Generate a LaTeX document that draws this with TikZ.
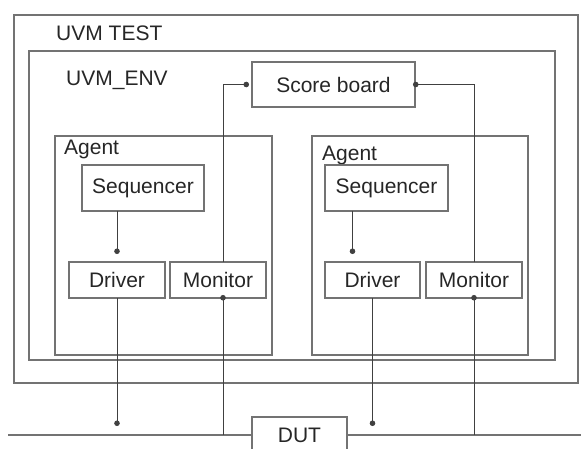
\documentclass[tikz,border=0pt]{standalone}
\usepackage{fontspec}
\setmainfont{Liberation Sans}
\usetikzlibrary{arrows.meta}

\begin{document}
\begin{tikzpicture}[x=1pt, y=-1pt,
		ctr/.style={draw=black!55, line width=1.1pt},
		blk/.style={draw=black!55, line width=1.1pt, inner sep=0pt, outer sep=0pt,
			text=black!85, font=\fontsize{21}{24}\selectfont},
		lbl/.style={anchor=west, inner sep=0pt, text=black!85, font=\fontsize{21}{24}\selectfont},
		lnk/.style={draw=black!75, line width=0.9pt, -{Circle[length=5.5pt]}}]
			%%%%% START %%%%%
			\useasboundingbox (0, 0) rectangle (581, 449);
			
			\draw[ctr] (14, 15) rectangle (578, 383);
			\node[lbl] (test) at (56, 33) {UVM TEST};
			
			\draw[ctr] (29, 51) rectangle (555, 360);
			\node[lbl] (env) at (66, 80) {UVM\_ENV};
			
			\node[blk, minimum width=163, minimum height=45] (sb) at (333.5, 84.5) {Score board};
			
			% left agent
			\draw[ctr] (55, 136) rectangle (272, 355);
			\node[lbl] (agL) at (64, 149) {Agent};
			\node[blk, minimum width=122, minimum height=46] (seqL) at (143, 188) {Sequencer};
			\node[blk, minimum width=96, minimum height=36] (drvL) at (117, 280) {Driver};
			\node[blk, minimum width=96, minimum height=36] (monL) at (218, 280) {Monitor};
			
			% right agent
			\draw[ctr] (312, 136) rectangle (528, 355);
			\node[lbl] (agR) at (322, 155) {Agent};
			\node[blk, minimum width=123, minimum height=46] (seqR) at (386.5, 188) {Sequencer};
			\node[blk, minimum width=95, minimum height=36] (drvR) at (372.5, 280) {Driver};
			\node[blk, minimum width=96, minimum height=36] (monR) at (474, 280) {Monitor};
			
			% DUT and bus
			\node[blk, minimum width=95, minimum height=36] (dut) at (299.5, 435) {DUT};
			\coordinate (busL) at (8, 435);
			\coordinate (busR) at (581, 435);
			\draw[draw=black!55, line width=1.1pt] (busL) -- (dut.west);
			\draw[draw=black!55, line width=1.1pt] (dut.east) -- (busR);
			
			\coordinate (mlTop) at ([xshift=5]monL.north);
			\coordinate (mlBot) at ([xshift=5]monL.south);
			\coordinate (srBot) at ([xshift=-20]drvR.north);
			
			\draw[lnk, shorten >=8pt] (seqL.south -| drvL.north) -- (drvL.north);
			\draw[lnk, shorten >=8pt] (srBot |- seqR.south) -- (srBot);
			
			\draw[lnk, shorten >=9pt] (drvL.south) -- (drvL.south |- busL);
			\draw[lnk, shorten >=9pt] (drvR.south) -- (drvR.south |- busL);
			
			\draw[lnk, shorten >=-3pt] (mlBot |- busL) -- (mlBot);
			\draw[lnk, shorten >=-3pt] (monR.south |- busL) -- (monR.south);
			
			\draw[lnk, shorten >=3pt] (mlTop) |- (sb.west);
			\draw[lnk, shorten >=-2pt] (monR.north) |- (sb.east);
			%%%%% END %%%%%
\end{tikzpicture}
\end{document}
